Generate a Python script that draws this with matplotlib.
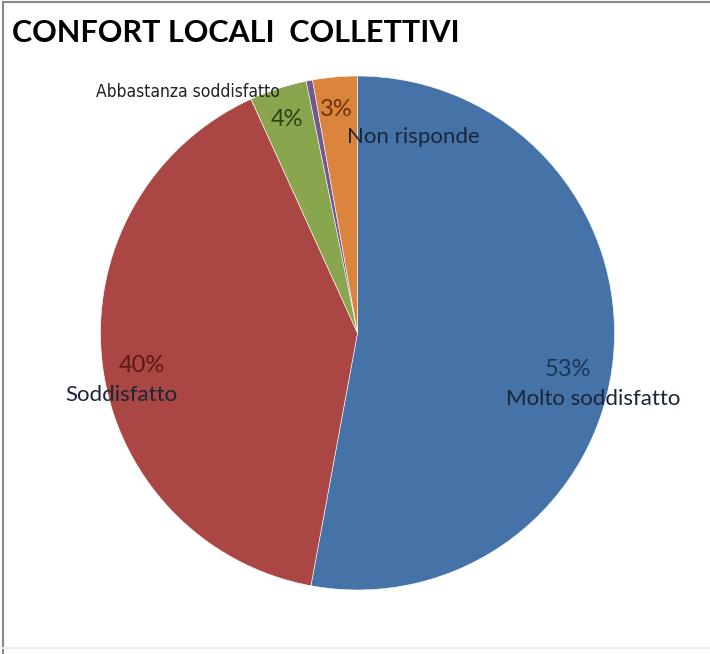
import matplotlib
matplotlib.use('Agg')
import matplotlib.pyplot as plt

# Dati del grafico
categorie = ['Molto soddisfatto', 'Soddisfatto', 'Abbastanza soddisfatto', 'Insoddisfatto', 'Non risponde']
valori = [52.9, 40.3, 3.6, 0.4, 2.8]
colori = ['#4572A7', '#AA4643', '#89A54E', '#71588F', '#DB843D']
colori_pct = ['#1c3557', '#5e1715', '#2f4014', None, '#6b3208']

# posizioni delle etichette (pixel, origine in alto a sinistra)
pos_pct = [(568, 370), (142, 365), (287, 120), None, (336, 109)]
pos_nome = [(593, 399), (121, 395), (188, 92), None, (413, 137)]

W, H = 710, 654
fig = plt.figure(figsize=(W / 100, H / 100), dpi=100)
ax = fig.add_axes([0, 0, 1, 1])

# asse y rovesciato: 270 gradi punta verso l'alto, verso antiorario = orario a video
ax.pie(valori, colors=colori, startangle=270, counterclock=True,
       center=(357.5, 333), radius=257, frame=True,
       wedgeprops={'linewidth': 0.4, 'edgecolor': 'white'})
ax.set_xlim(0, W)
ax.set_ylim(H, 0)
ax.set_aspect('equal')
ax.axis('off')

for i, v in enumerate(valori):
    if pos_pct[i] is None:
        continue
    ax.text(*pos_pct[i], f'{v:.0f}%', ha='center', va='center',
            fontsize=17, color=colori_pct[i], family='Lato')
    if i == 2:
        ax.text(*pos_nome[i], categorie[i], ha='center', va='center',
                fontsize=12.5, color='#222222', family='DejaVu Sans',
                fontstretch='condensed')
    else:
        ax.text(*pos_nome[i], categorie[i], ha='center', va='center',
                fontsize=16, color='#1a2538', family='Lato')

ax.text(12, 33, 'CONFORT LOCALI  COLLETTIVI', ha='left', va='center',
        fontsize=22, fontweight='bold', color='black', family='Lato')

# cornice grigia
ax.plot([3, 3], [2, 654], color='#888888', lw=1.5)
ax.plot([3, 710], [2, 2], color='#888888', lw=1.5)
ax.plot([3, 710], [648, 648], color='#eeeeee', lw=1.5)

fig.savefig('out.png', dpi=100)
